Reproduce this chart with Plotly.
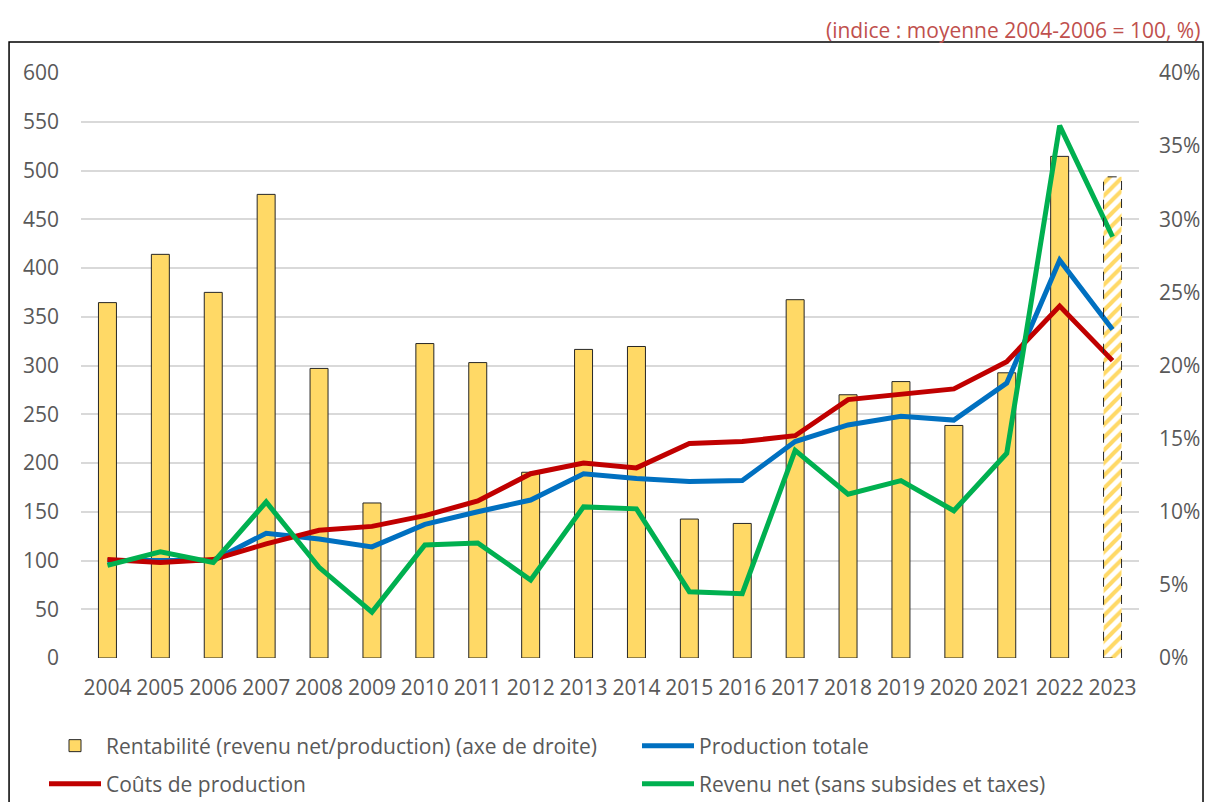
import plotly.graph_objects as go

years = [str(y) for y in range(2004, 2024)]
rentabilite = [24.3, 27.6, 25.0, 31.7, 19.8, 10.6, 21.5, 20.2, 12.7, 21.1,
               21.3, 9.5, 9.2, 24.5, 18.0, 18.9, 15.9, 19.5, 34.3, 32.9]
production = [100, 100, 100, 128, 122, 114, 137, 150, 162, 189,
              184, 181, 182, 222, 239, 248, 244, 282, 408, 337]
couts = [101, 98, 101, 117, 131, 135, 146, 161, 189, 200,
         195, 220, 222, 228, 265, 271, 276, 304, 361, 305]
revenu = [95, 109, 98, 160, 93, 47, 116, 118, 80, 155,
          153, 68, 66, 213, 168, 182, 151, 210, 546, 432]

left_ticks = list(range(0, 601, 50))
right_ticks = list(range(0, 41, 5))

YELLOW = "#FFD966"
TXT = "#595959"
FS = 21
W, H = 1205, 794
n = len(years)
estimate = [False] * (n - 1) + [True]

fig = go.Figure()
fig.add_trace(go.Bar(
    x=years, y=rentabilite, yaxis="y", legend="legend",
    name="Rentabilité (revenu net/production) (axe de droite)",
    marker=dict(
        color=YELLOW,
        line=dict(color=["rgba(0,0,0,0)" if e else "#262626" for e in estimate], width=1),
        pattern=dict(shape=["/" if e else "" for e in estimate],
                     fgcolor=YELLOW, bgcolor="white", size=9, solidity=0.45,
                     fillmode="replace"),
    ),
    width=0.34,
))
fig.add_trace(go.Scatter(x=years, y=production, yaxis="y2", mode="lines", legend="legend2",
                         name="Production totale", line=dict(color="#0070C0", width=5)))
fig.add_trace(go.Scatter(x=years, y=couts, yaxis="y2", mode="lines", legend="legend3",
                         name="Coûts de production", line=dict(color="#C00000", width=5)))
fig.add_trace(go.Scatter(x=years, y=revenu, yaxis="y2", mode="lines", legend="legend4",
                         name="Revenu net (sans subsides et taxes)", line=dict(color="#00B050", width=5)))

# dashed outline of the estimated (last) bar
for i, e in enumerate(estimate):
    if e:
        fig.add_shape(type="rect", xref="x", yref="y",
                      x0=i - 0.17, x1=i + 0.17, y0=0, y1=rentabilite[i],
                      line=dict(color="#262626", width=1, dash="dash"),
                      fillcolor="rgba(0,0,0,0)", layer="above")

# outer frame
fig.add_shape(type="rect", xref="paper", yref="paper",
              x0=-0.068, x1=1.0605, y0=-0.29, y1=1.053,
              line=dict(color="black", width=1.5), fillcolor="rgba(0,0,0,0)")

font = "Open Sans, Noto Sans, sans-serif"
leg_common = dict(orientation="h", xref="container", yref="container",
                  xanchor="left", yanchor="middle",
                  font=dict(size=FS, color=TXT), itemwidth=52,
                  bgcolor="rgba(0,0,0,0)", borderwidth=0)
col1, col2 = 36 / W, 629 / W
row1, row2 = 1 - 738 / H, 1 - 776 / H
fig.update_layout(
    width=W, height=H,
    margin=dict(l=73, r=74, t=65, b=144, autoexpand=False),
    paper_bgcolor="white", plot_bgcolor="white",
    font=dict(family=font, size=FS, color=TXT),
    showlegend=True,
    bargap=0.66,
    xaxis=dict(type="category", showgrid=False, showline=False, ticks="",
               tickfont=dict(size=FS, color=TXT), ticklabelstandoff=15),
    yaxis=dict(side="right", range=[0, 40], tickvals=right_ticks,
               ticktext=[f"{v}%" for v in right_ticks], showgrid=False,
               zeroline=False, ticks="", ticklabelstandoff=19,
               tickfont=dict(size=FS, color=TXT)),
    yaxis2=dict(side="left", overlaying="y", range=[0, 600], tickvals=left_ticks,
                showgrid=True, gridcolor="#D9D9D9", gridwidth=1.5,
                zeroline=False, ticks="", ticklabelstandoff=21,
                tickfont=dict(size=FS, color=TXT)),
    legend=dict(leg_common, x=col1, y=row1),
    legend2=dict(leg_common, x=col2, y=row1),
    legend3=dict(leg_common, x=col1, y=row2),
    legend4=dict(leg_common, x=col2, y=row2),
    annotations=[dict(text="(indice : moyenne 2004-2006 = 100, %)",
                      xref="paper", yref="paper", x=(1194 - 73) / 1058, y=(650 - 22) / 585,
                      xanchor="right", yanchor="middle", showarrow=False,
                      font=dict(size=FS, color="#C0504D"))],
)

fig.write_html("out.html")
